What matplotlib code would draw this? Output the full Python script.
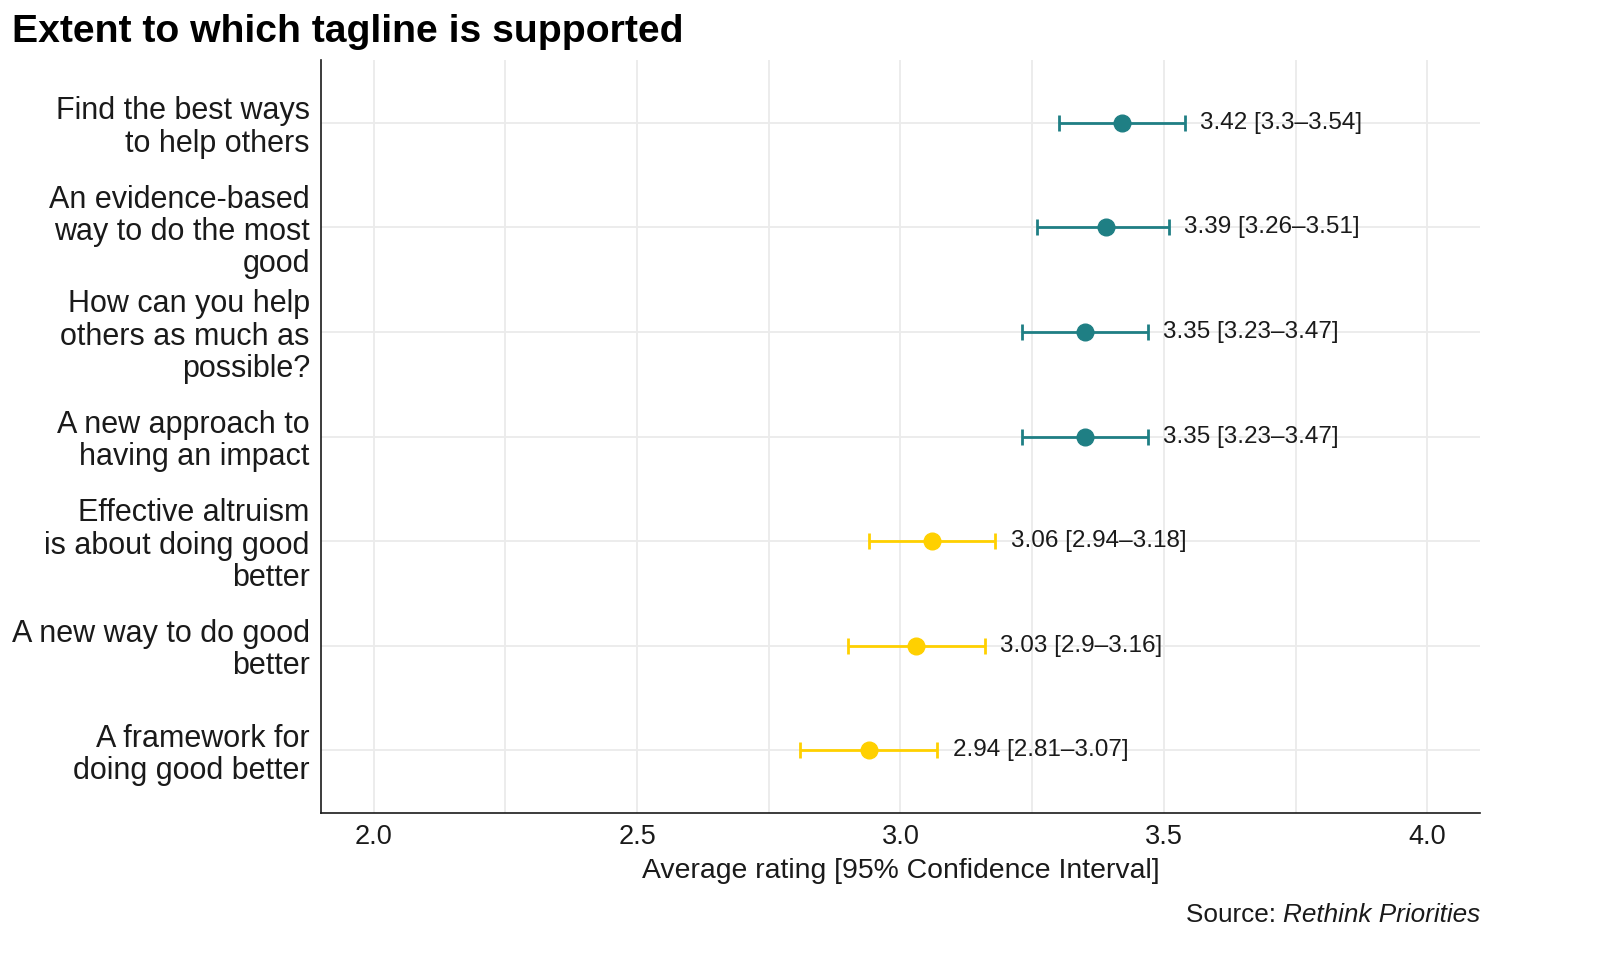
import matplotlib
matplotlib.use("Agg")
from matplotlib import pyplot as plt
from matplotlib.ticker import MultipleLocator

plt.rcParams['font.family'] = ['Liberation Sans', 'DejaVu Sans']

taglines = [
    "Find the best ways\nto help others",
    "An evidence-based\nway to do the most\ngood",
    "How can you help\nothers as much as\npossible?",
    "A new approach to\nhaving an impact",
    "Effective altruism\nis about doing good\nbetter",
    "A new way to do good\nbetter",
    "A framework for\ndoing good better",
]
means = [3.42, 3.39, 3.35, 3.35, 3.06, 3.03, 2.94]
ci_low = [3.30, 3.26, 3.23, 3.23, 2.94, 2.90, 2.81]
ci_high = [3.54, 3.51, 3.47, 3.47, 3.18, 3.16, 3.07]
groups = ["top", "top", "top", "top", "bottom", "bottom", "bottom"]

colors = {"top": "#1f7f84", "bottom": "#ffd000"}

fig = plt.figure(figsize=(16, 9.6), dpi=100)
ax = fig.add_axes([0.2006, 0.1531, 0.7244, 0.7844])

for i, (m, lo, hi, g) in enumerate(zip(means, ci_low, ci_high, groups)):
    c = colors[g]
    ax.errorbar(m, i, xerr=[[m - lo], [hi - m]], fmt='o', color=c,
                ecolor=c, elinewidth=2, capsize=5.5, capthick=2,
                markersize=12, zorder=3)
    ax.annotate("{:g} [{:g}\u2013{:g}]".format(m, lo, hi), xy=(hi, i),
                xytext=(11, 0), textcoords='offset points',
                va='center', ha='left', fontsize=17.5, color='#1a1a1a')

ax.set_xlim(1.9, 4.1)
ax.set_ylim(6.6, -0.6)
ax.xaxis.set_minor_locator(MultipleLocator(0.25))
ax.set_xticks([2.0, 2.5, 3.0, 3.5, 4.0])
ax.set_xticklabels(["2.0", "2.5", "3.0", "3.5", "4.0"])
ax.set_yticks(range(len(taglines)))
ax.set_yticklabels(taglines, fontsize=22, linespacing=1.1)
ax.tick_params(axis='x', labelsize=19.5, length=0, pad=8, colors='#1a1a1a')
ax.tick_params(axis='y', length=0, pad=8, colors='#1a1a1a')
ax.tick_params(which='minor', length=0)

ax.grid(True, which='both', axis='x', color='#ebebeb', linewidth=1.3, zorder=0)
ax.grid(True, which='major', axis='y', color='#ebebeb', linewidth=1.3, zorder=0)
ax.set_axisbelow(True)

for s in ['top', 'right']:
    ax.spines[s].set_visible(False)
for s in ['left', 'bottom']:
    ax.spines[s].set_color('#1a1a1a')
    ax.spines[s].set_linewidth(1.2)

ax.set_xlabel("Average rating [95% Confidence Interval]", fontsize=20.4,
              color='#1a1a1a', labelpad=6)

fig.text(0.0075, 0.956, "Extent to which tagline is supported", fontsize=28.2,
         fontweight='bold', va='baseline', ha='left')

src = fig.text(0.925, 0.047, "Rethink Priorities", fontsize=18.8,
               fontstyle='italic', ha='right', va='center', color='#1a1a1a')
fig.canvas.draw()
bb = src.get_window_extent()
fig.text(bb.x0 / fig.bbox.width, 0.047, "Source: ", fontsize=18.8,
         ha='right', va='center', color='#1a1a1a')

fig.savefig("out.png", dpi=100)
